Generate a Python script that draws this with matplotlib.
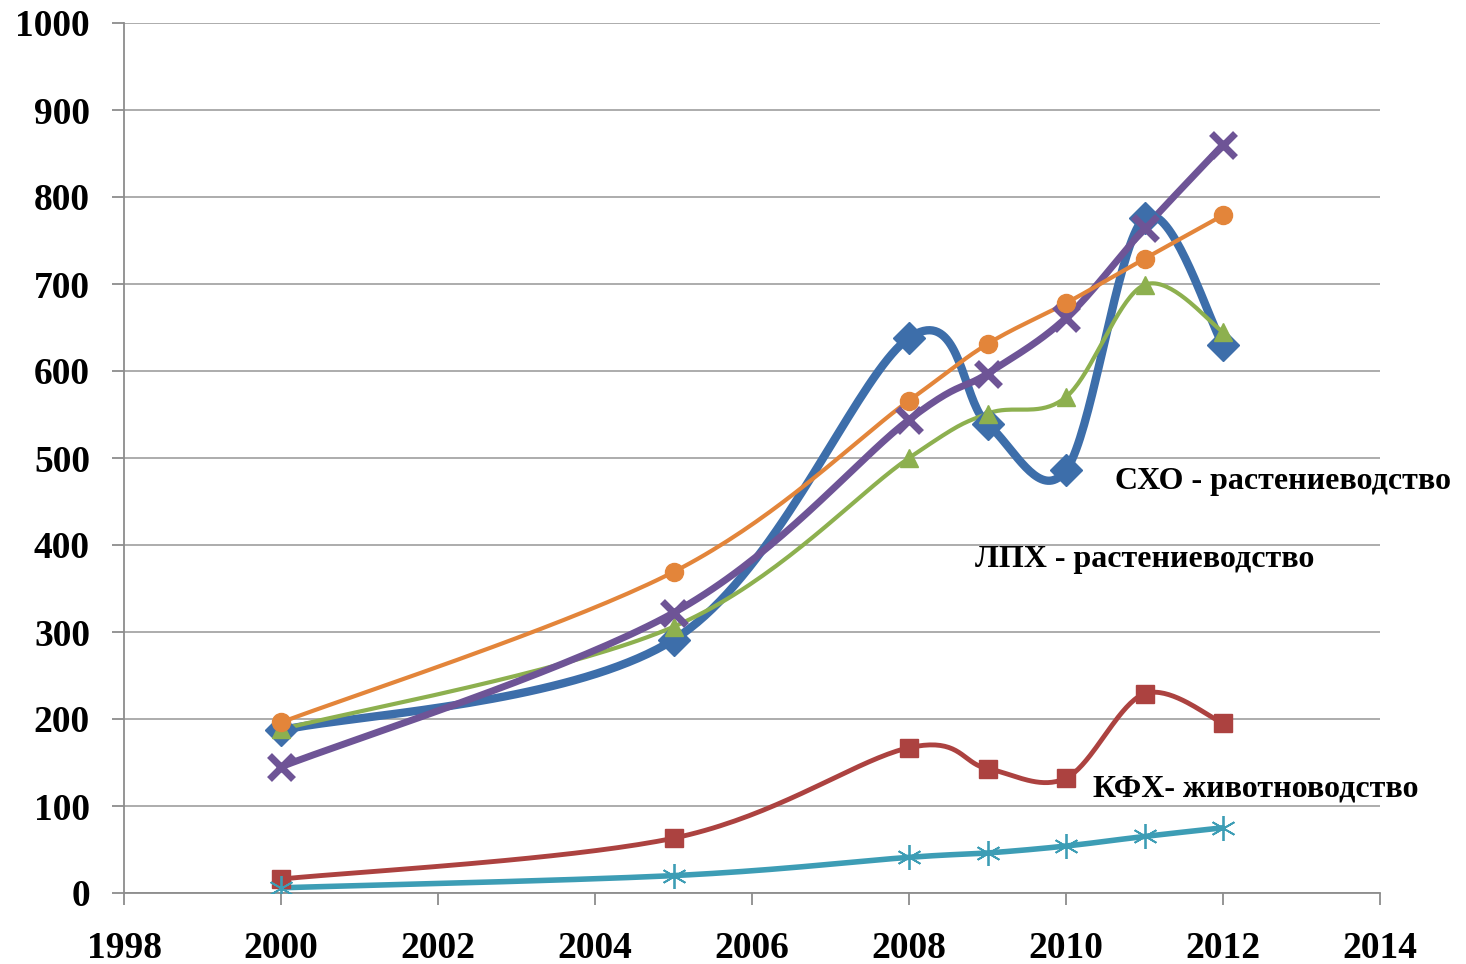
import numpy as np
import matplotlib
matplotlib.use("Agg")
import matplotlib.pyplot as plt

years = [2000, 2005, 2008, 2009, 2010, 2011, 2012]
blue_vals = [187, 291, 638, 539, 486, 776, 630]
orange_vals = [196, 369, 566, 631, 678, 729, 779]
green_vals = [188, 306, 500, 551, 570, 699, 645]
purple_vals = [145, 322, 544, 597, 661, 764, 860]
red_vals = [16, 63, 167, 143, 132, 229, 195]
teal_vals = [6, 20, 41, 46, 54, 65, 75]

labels = ["СХО - растениеводство", "ЛПХ - растениеводство", "КФХ- животноводство"]
x_ticks = list(range(1998, 2015, 2))
y_ticks = list(range(0, 1001, 100))


def smooth(xs, ys, n=40):
    xs = np.asarray(xs, float)
    ys = np.asarray(ys, float)
    P = np.column_stack([xs, ys])
    m = len(P)
    out = []
    for i in range(m - 1):
        p0 = P[i - 1] if i > 0 else P[i]
        p1 = P[i]
        p2 = P[i + 1]
        p3 = P[i + 2] if i + 2 < m else P[i + 1]
        c1 = p1 + (p2 - p0) / 6.0
        c2 = p2 - (p3 - p1) / 6.0
        t = np.linspace(0, 1, n)[:, None]
        seg = ((1 - t) ** 3) * p1 + 3 * ((1 - t) ** 2) * t * c1 + 3 * (1 - t) * t ** 2 * c2 + t ** 3 * p2
        if i > 0:
            seg = seg[1:]
        out.append(seg)
    out = np.vstack(out)
    return out[:, 0], out[:, 1]


plt.rcParams['font.family'] = ['Liberation Serif', 'DejaVu Serif']
fig = plt.figure(figsize=(14.66, 9.64), dpi=100)
ax = fig.add_axes([124 / 1466, 1 - 893 / 964, (1380 - 124) / 1466, (893 - 23) / 964])

series = [
    (blue_vals, '#3D6EAA', 6, 'D', 16, 1),
    (red_vals, '#AC4240', 3.5, 's', 13, 1),
    (green_vals, '#8DB04F', 3, '^', 13, 1),
    (purple_vals, '#6E5496', 5, 'x', 17, 5),
    (teal_vals, '#3D9DB5', 4, '*', 0, 1),
    (orange_vals, '#E3853A', 3, 'o', 13, 1),
]

for vals, col, lw, mk, ms, mew in series:
    sx, sy = smooth(years, vals)
    ax.plot(sx, sy, color=col, lw=lw, solid_capstyle='round', zorder=3)
    if mk == '*':
        ax.plot(years, vals, ls='none', marker=(6, 2, 0), markersize=18,
                markeredgecolor=col, markeredgewidth=1.3, zorder=4)
    elif mk == 'x':
        ax.plot(years, vals, ls='none', marker='x', markersize=ms,
                markeredgecolor=col, markeredgewidth=mew, zorder=4)
    else:
        ax.plot(years, vals, ls='none', marker=mk, markersize=ms,
                markerfacecolor=col, markeredgecolor=col, zorder=4)

ax.set_xlim(1998, 2014)
ax.set_ylim(0, 1000)
ax.set_xticks(x_ticks)
ax.set_yticks(y_ticks)
ax.yaxis.grid(True, color='#A6A6A6', lw=1.3)
ax.set_axisbelow(True)
for s in ['top', 'right']:
    ax.spines[s].set_visible(False)
for s in ['left', 'bottom']:
    ax.spines[s].set_color('#8C8C8C')
    ax.spines[s].set_linewidth(1.3)
ax.tick_params(axis='both', direction='out', length=8.5, width=1.3, color='#8C8C8C',
               labelsize=27)
ax.tick_params(axis='y', pad=16)
ax.tick_params(axis='x', pad=19)
for lab in ax.get_xticklabels() + ax.get_yticklabels():
    lab.set_fontweight('bold')

ax.text(2010.62, 473, labels[0], fontsize=23, fontweight='bold', ha='left', va='center')
ax.text(2008.84, 383, labels[1], fontsize=23, fontweight='bold', ha='left', va='center')
ax.text(2010.34, 120, labels[2], fontsize=23, fontweight='bold', ha='left', va='center')

fig.savefig('out.png', dpi=100, facecolor='white')
